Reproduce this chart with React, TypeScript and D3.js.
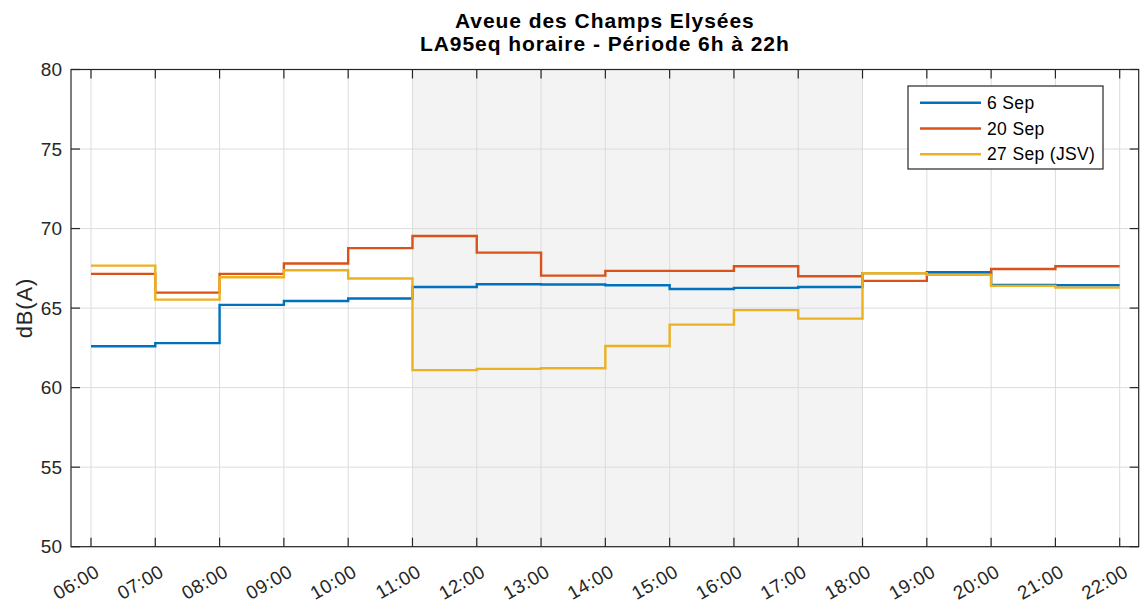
import React, { useEffect, useRef } from 'react';
import * as d3 from 'd3';

// hourly LA95eq values, one per hour from 06:00 to 21:00
const hours = [6, 7, 8, 9, 10, 11, 12, 13, 14, 15, 16, 17, 18, 19, 20, 21];
const tickLabels = ['06:00', '07:00', '08:00', '09:00', '10:00', '11:00', '12:00', '13:00', '14:00',
  '15:00', '16:00', '17:00', '18:00', '19:00', '20:00', '21:00', '22:00'];
const yTicks = [50, 55, 60, 65, 70, 75, 80];

const sep6 = [62.6, 62.8, 65.2, 65.45, 65.6, 66.33, 66.5, 66.48, 66.44, 66.2, 66.27, 66.33, 67.2, 67.26, 66.45, 66.44];
const sep20 = [67.15, 65.97, 67.15, 67.8, 68.77, 69.53, 68.49, 67.04, 67.34, 67.34, 67.63, 67.0, 66.71, 67.12, 67.46, 67.63];
const sep27 = [67.67, 65.53, 66.94, 67.38, 66.86, 61.1, 61.18, 61.22, 62.62, 63.96, 64.87, 64.34, 67.19, 67.09, 66.4, 66.29];

const seriesNames = ['6 Sep', '20 Sep', '27 Sep (JSV)'];
const seriesColors = ['#0072BD', '#D95319', '#EDB120'];
const shadeRange = [11, 18];

const FONT = '"Liberation Sans", Arial, sans-serif';

export default function App() {
  const ref = useRef<SVGSVGElement>(null);

  useEffect(() => {
    const svg = d3.select(ref.current);
    svg.selectAll('*').remove();

    // axes box
    const left = 71, right = 1138.7, top = 69.5, bottom = 546.7;

    const x = d3.scaleLinear().domain([6, 22]).range([91, 1119.7]);
    const y = d3.scaleLinear().domain([50, 80]).range([bottom, top]);

    svg.append('rect')
      .attr('x', left).attr('y', top)
      .attr('width', right - left).attr('height', bottom - top)
      .attr('fill', '#fff');

    // shaded daytime period
    svg.append('rect')
      .attr('x', x(shadeRange[0])).attr('y', top)
      .attr('width', x(shadeRange[1]) - x(shadeRange[0]))
      .attr('height', bottom - top)
      .attr('fill', '#f3f3f3');

    // grid
    const grid = svg.append('g').attr('stroke', '#dcdcdc').attr('stroke-width', 1);
    tickLabels.forEach((_, i) => {
      grid.append('line')
        .attr('x1', x(6 + i)).attr('x2', x(6 + i))
        .attr('y1', top).attr('y2', bottom);
    });
    yTicks.forEach(t => {
      grid.append('line')
        .attr('x1', left).attr('x2', right)
        .attr('y1', y(t)).attr('y2', y(t));
    });

    // step lines
    const line = d3.line<[number, number]>()
      .x(d => x(d[0]))
      .y(d => y(d[1]))
      .curve(d3.curveStepAfter);

    [sep6, sep20, sep27].forEach((vals, k) => {
      const pts: [number, number][] = vals.map((v, i) => [hours[i], v]);
      pts.push([22, vals[vals.length - 1]]);
      svg.append('path')
        .datum(pts)
        .attr('d', line)
        .attr('fill', 'none')
        .attr('stroke', seriesColors[k])
        .attr('stroke-width', 2.4);
    });

    // box + ticks
    const axis = svg.append('g').attr('stroke', '#262626').attr('stroke-width', 1.2);
    axis.append('rect')
      .attr('x', left).attr('y', top)
      .attr('width', right - left).attr('height', bottom - top)
      .attr('fill', 'none');
    const tl = 9;
    tickLabels.forEach((_, i) => {
      const xx = x(6 + i);
      axis.append('line').attr('x1', xx).attr('x2', xx).attr('y1', bottom).attr('y2', bottom - tl);
      axis.append('line').attr('x1', xx).attr('x2', xx).attr('y1', top).attr('y2', top + tl);
    });
    yTicks.forEach(t => {
      axis.append('line').attr('x1', left).attr('x2', left + tl).attr('y1', y(t)).attr('y2', y(t));
      axis.append('line').attr('x1', right).attr('x2', right - tl).attr('y1', y(t)).attr('y2', y(t));
    });

    // tick labels
    svg.append('g').selectAll('text')
      .data(yTicks)
      .enter().append('text')
      .attr('x', 62)
      .attr('y', d => y(d))
      .attr('dy', '0.35em')
      .attr('text-anchor', 'end')
      .attr('font-family', FONT)
      .attr('font-size', 19)
      .attr('fill', '#262626')
      .text(d => d);

    svg.append('g').selectAll('text')
      .data(tickLabels)
      .enter().append('text')
      .attr('transform', (d, i) => `translate(${x(6 + i) + 6.5}, ${bottom + 23}) rotate(-30)`)
      .attr('dy', '0.35em')
      .attr('text-anchor', 'end')
      .attr('font-family', FONT)
      .attr('font-size', 19)
      .attr('letter-spacing', 0.4)
      .attr('fill', '#262626')
      .text(d => d);

    // y label
    svg.append('text')
      .attr('transform', `translate(32, ${(top + bottom) / 2}) rotate(-90)`)
      .attr('text-anchor', 'middle')
      .attr('font-family', FONT)
      .attr('font-size', 22)
      .attr('letter-spacing', 0.8)
      .attr('fill', '#262626')
      .text('dB(A)');

    // title
    const cx = (left + right) / 2;
    ['Aveue des Champs Elysées', 'LA95eq horaire - Période 6h à 22h'].forEach((t, i) => {
      svg.append('text')
        .attr('x', cx).attr('y', 27.5 + i * 23.5)
        .attr('text-anchor', 'middle')
        .attr('font-family', FONT)
        .attr('font-weight', 'bold')
        .attr('font-size', 21)
        .attr('letter-spacing', 0.95)
        .attr('fill', '#000')
        .text(t);
    });

    // legend
    const lg = svg.append('g');
    lg.append('rect')
      .attr('x', 908).attr('y', 86)
      .attr('width', 195).attr('height', 83)
      .attr('fill', '#fff')
      .attr('stroke', '#262626')
      .attr('stroke-width', 1.2);
    seriesNames.forEach((name, k) => {
      const yy = 102.7 + k * 25.8;
      lg.append('line')
        .attr('x1', 920).attr('x2', 981)
        .attr('y1', yy).attr('y2', yy)
        .attr('stroke', seriesColors[k])
        .attr('stroke-width', 2.4);
      lg.append('text')
        .attr('x', 987).attr('y', yy)
        .attr('dy', '0.35em')
        .attr('font-family', FONT)
        .attr('font-size', 17.5)
        .attr('letter-spacing', 0.35)
        .attr('fill', '#000')
        .text(name);
    });
  }, []);

  return (
    <svg ref={ref} width={1140} height={603}
      style={{ position: 'absolute', left: 0, top: 0, background: '#fff' }} />
  );
}
